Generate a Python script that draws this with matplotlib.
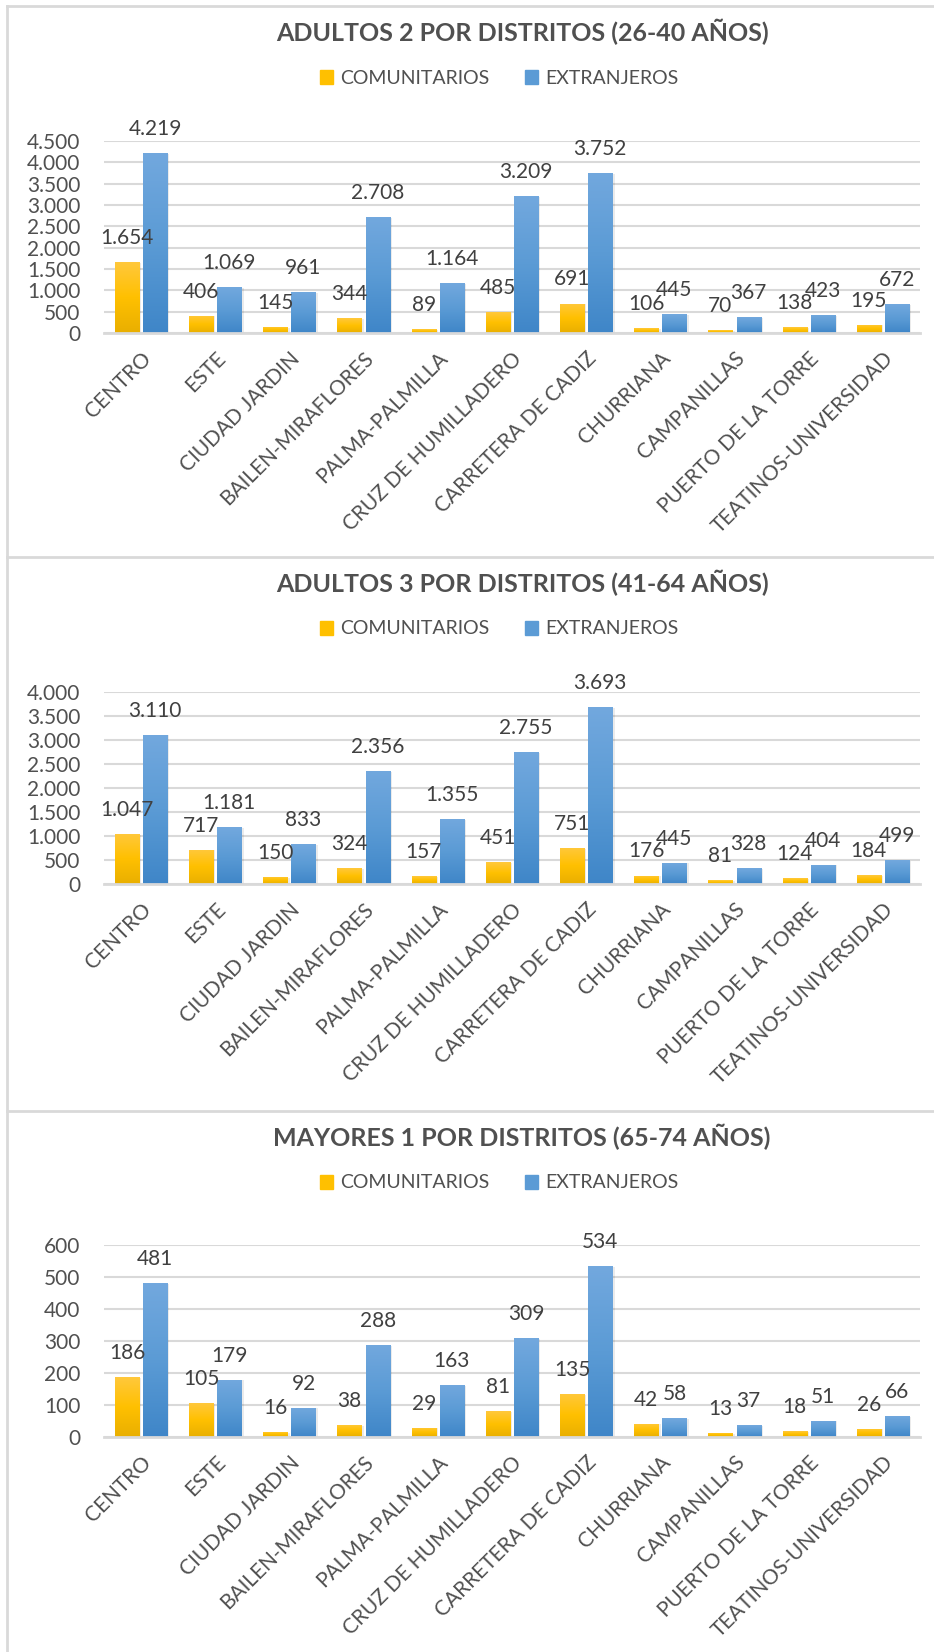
import numpy as np
import matplotlib.pyplot as plt
import matplotlib.transforms as mtransforms
from matplotlib.colors import LinearSegmentedColormap
from matplotlib.patches import Patch

plt.rcParams['font.family'] = ['Lato', 'DejaVu Sans']

# Datos
distritos = ["CENTRO", "ESTE", "CIUDAD JARDIN", "BAILEN-MIRAFLORES", "PALMA-PALMILLA",
             "CRUZ DE HUMILLADERO", "CARRETERA DE CADIZ", "CHURRIANA", "CAMPANILLAS",
             "PUERTO DE LA TORRE", "TEATINOS-UNIVERSIDAD"]
series = ["COMUNITARIOS", "EXTRANJEROS"]

titulo_adultos2 = "ADULTOS 2 POR DISTRITOS (26-40 AÑOS)"
com_adultos2 = [1654, 406, 145, 344, 89, 485, 691, 106, 70, 138, 195]
ext_adultos2 = [4219, 1069, 961, 2708, 1164, 3209, 3752, 445, 367, 423, 672]

titulo_adultos3 = "ADULTOS 3 POR DISTRITOS (41-64 AÑOS)"
com_adultos3 = [1047, 717, 150, 324, 157, 451, 751, 176, 81, 124, 184]
ext_adultos3 = [3110, 1181, 833, 2356, 1355, 2755, 3693, 445, 328, 404, 499]

titulo_mayores1 = "MAYORES 1 POR DISTRITOS (65-74 AÑOS)"
com_mayores1 = [186, 105, 16, 38, 29, 81, 135, 42, 13, 18, 26]
ext_mayores1 = [481, 179, 92, 288, 163, 309, 534, 58, 37, 51, 66]

TXT = "#505050"
LBL = "#404040"
GRID = "#D9D9D9"
yellow_cm = LinearSegmentedColormap.from_list("y", ["#E9AF00", "#FFC000", "#FFC83C"])
blue_cm = LinearSegmentedColormap.from_list("b", ["#3F86C8", "#5B9BD5", "#72A8DE"])

W, H = 934, 1652
fig = plt.figure(figsize=(W / 100, H / 100), dpi=100)


def fx(px):
    return px / W


def fy(py):
    return 1 - py / H


def miles(v):
    return f"{v:,}".replace(",", ".")


# marcos de los paneles
for y in [6, 557, 1111]:
    fig.add_artist(plt.Line2D([fx(7), 1], [fy(y), fy(y)], color=GRID, lw=2))
fig.add_artist(plt.Line2D([fx(7), fx(7)], [fy(6), 0], color=GRID, lw=2))

paneles = [
    (titulo_adultos2, com_adultos2, ext_adultos2, 4500, 500, 0),
    (titulo_adultos3, com_adultos3, ext_adultos3, 4000, 500, 551),
    (titulo_mayores1, com_mayores1, ext_mayores1, 600, 100, 1105),
]
ax_tops = [141, 692, 1245]

x = np.arange(len(distritos))
bw = 0.325
off = 0.19
grad = np.linspace(0, 1, 100).reshape(-1, 1)

for (titulo, com, ext, ymax, step, dy), top in zip(paneles, ax_tops):
    bot = top + 192
    ax = fig.add_axes([fx(104), fy(bot), fx(920) - fx(104), (bot - top) / H])

    fig.text(fx(522), fy(32 + dy), titulo, ha="center", va="center",
             fontsize=18, fontweight="bold", color=TXT)
    fig.legend(handles=[Patch(color="#FFC000"), Patch(color="#5B9BD5")], labels=series,
               loc="center", bbox_to_anchor=(fx(499), fy(78 + dy)), ncol=2, frameon=False,
               fontsize=14, labelcolor=TXT, handlelength=0.7, handleheight=0.7,
               handletextpad=0.35, columnspacing=1.8)

    for vals, o, cm in [(com, -off, yellow_cm), (ext, off, blue_cm)]:
        bars = ax.bar(x + o, vals, bw, color=cm(0.5), zorder=2)
        for b, v in zip(bars, vals):
            bx, bwid, bh = b.get_x(), b.get_width(), b.get_height()
            ax.bar(bx + bwid / 2 + 0.03, bh, bwid, bottom=-ymax * 0.004,
                   color="#000000", alpha=0.08, zorder=1.5)
            im = ax.imshow(grad, extent=[bx, bx + bwid, 0, bh], origin="lower",
                           aspect="auto", cmap=cm, zorder=2.5)
            im.set_clip_path(b)
            ax.annotate(miles(v), (bx + bwid / 2, bh), xytext=(0, 13),
                        textcoords="offset points", ha="center", va="baseline",
                        fontsize=15, color=LBL, zorder=4)

    ax.set_xlim(-0.5, len(distritos) - 0.5)
    ax.set_ylim(0, ymax)
    ax.set_yticks(np.arange(0, ymax + 1, step))
    ax.set_yticklabels([miles(v) for v in range(0, ymax + 1, step)])
    ax.set_xticks(x)
    ax.set_xticklabels(distritos, rotation=45, ha="right", rotation_mode="anchor")
    shift = mtransforms.ScaledTranslation(6 / 100, 0, fig.dpi_scale_trans)
    for t in ax.get_xticklabels():
        t.set_transform(t.get_transform() + shift)
    ax.tick_params(axis="both", length=0, labelsize=15, colors=TXT)
    ax.tick_params(axis="y", pad=17)
    ax.tick_params(axis="x", pad=11)
    ax.yaxis.grid(True, color=GRID, lw=1.5)
    ax.set_axisbelow(True)
    for s in ["top", "right", "left"]:
        ax.spines[s].set_visible(False)
    ax.spines["bottom"].set_color(GRID)
    ax.spines["bottom"].set_linewidth(2)
    ax.spines["bottom"].set_zorder(3)

fig.savefig("out.png", dpi=100)
